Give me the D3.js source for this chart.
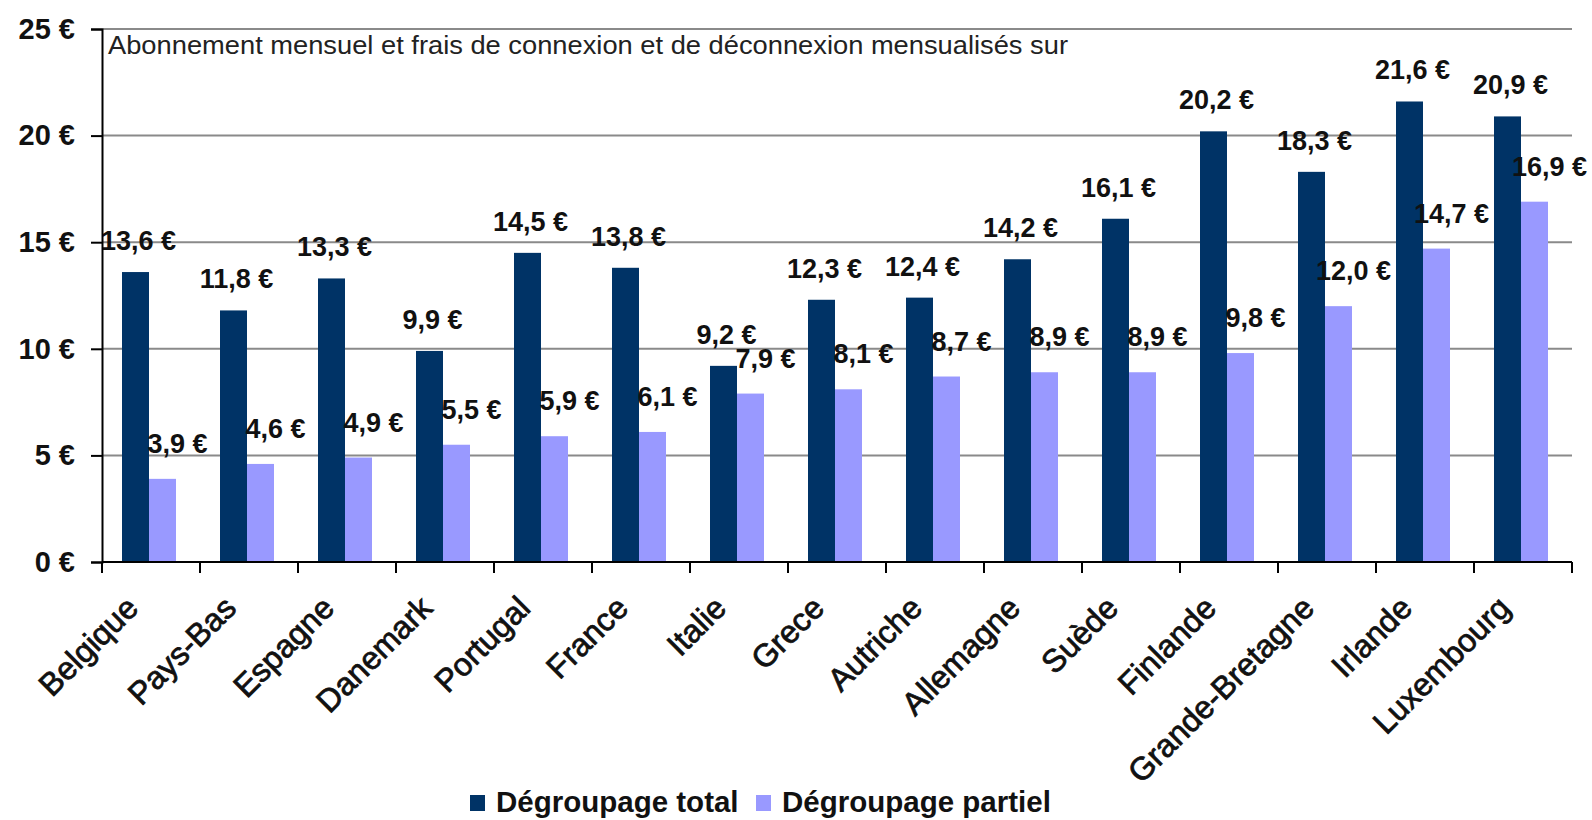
<!DOCTYPE html>
<html>
<head>
<meta charset="utf-8">
<script src="https://cdn.jsdelivr.net/npm/d3@7"></script>
<style>
  body { margin: 0; background: #fff; }
  svg { display: block; }
</style>
</head>
<body>
<svg width="1592" height="820"></svg>
<script>
const countries = ['Belgique', 'Pays-Bas', 'Espagne', 'Danemark', 'Portugal', 'France', 'Italie',
  'Grece', 'Autriche', 'Allemagne', 'Suède', 'Finlande', 'Grande-Bretagne', 'Irlande', 'Luxembourg'];
const seriesNames = ['Dégroupage total', 'Dégroupage partiel'];
const totalValues = [13.6, 11.8, 13.3, 9.9, 14.5, 13.8, 9.2, 12.3, 12.4, 14.2, 16.1, 20.2, 18.3, 21.6, 20.9];
const partialValues = [3.9, 4.6, 4.9, 5.5, 5.9, 6.1, 7.9, 8.1, 8.7, 8.9, 8.9, 9.8, 12.0, 14.7, 16.9];
const yTicks = [0, 5, 10, 15, 20, 25];
const note = 'Abonnement mensuel et frais de connexion et de déconnexion mensualisés sur';

const colors = ['#003366', '#9999ff'];
const font = '"Liberation Sans", Arial, sans-serif';

const plotLeft = 102, plotRight = 1572, plotTop = 29, plotBottom = 562;

const svg = d3.select('svg');

const y = d3.scaleLinear().domain([0, 25]).range([plotBottom, plotTop]);
const x0 = d3.scaleBand().domain(countries).range([plotLeft, plotRight]);
const x1 = d3.scaleBand().domain([0, 1]).range([20, 74]);

// grid lines
svg.append('g').selectAll('line')
  .data(yTicks.filter(d => d > 0))
  .join('line')
  .attr('x1', plotLeft).attr('x2', plotRight)
  .attr('y1', d => y(d)).attr('y2', d => y(d))
  .attr('stroke', '#8a8a8a')
  .attr('stroke-width', 2);

// note in the top left corner
svg.append('text')
  .attr('x', 108).attr('y', 54)
  .attr('font-family', font)
  .attr('font-size', '25px')
  .attr('fill', '#222')
  .attr('textLength', 960)
  .attr('lengthAdjust', 'spacingAndGlyphs')
  .text(note);

// bars
const rows = countries.map((c, i) => ({ country: c, values: [totalValues[i], partialValues[i]] }));
const groups = svg.append('g').selectAll('g')
  .data(rows)
  .join('g')
  .attr('transform', d => 'translate(' + x0(d.country) + ',0)');

groups.selectAll('rect')
  .data(d => d.values.map((v, s) => ({ v, s })))
  .join('rect')
  .attr('x', d => x1(d.s))
  .attr('width', x1.bandwidth())
  .attr('y', d => y(d.v))
  .attr('height', d => y(0) - y(d.v))
  .attr('fill', d => colors[d.s]);

// value labels
const fmt = v => d3.format('.1f')(v).replace('.', ',') + ' €';
groups.selectAll('text')
  .data(d => d.values.map((v, s) => ({ v, s })))
  .join('text')
  .attr('x', d => x1(d.s) + x1.bandwidth() / 2 + (d.s ? 15 : 3))
  .attr('y', d => y(d.v) - (d.s ? 26 : 22))
  .attr('text-anchor', 'middle')
  .attr('font-family', font)
  .attr('font-weight', 'bold')
  .attr('font-size', '27px')
  .attr('fill', '#111')
  .text(d => fmt(d.v));

// y axis
const yAxis = svg.append('g')
  .attr('transform', 'translate(' + plotLeft + ',0)')
  .call(d3.axisLeft(y).tickValues(yTicks).tickSize(11).tickPadding(16)
    .tickFormat(d => d + ' €'));
yAxis.select('.domain').attr('stroke', '#000').attr('stroke-width', 2);
yAxis.selectAll('.tick line').attr('stroke', '#000').attr('stroke-width', 2);
yAxis.selectAll('.tick text')
  .attr('font-family', font)
  .attr('font-weight', 'bold')
  .attr('font-size', '29px')
  .attr('fill', '#111');

// x axis: ticks on category boundaries
const xAxis = svg.append('g');
xAxis.append('line')
  .attr('x1', plotLeft).attr('x2', plotRight)
  .attr('y1', plotBottom).attr('y2', plotBottom)
  .attr('stroke', '#000').attr('stroke-width', 2);
xAxis.selectAll('line.tk')
  .data(countries.map(c => x0(c)).concat([plotRight]))
  .join('line')
  .attr('class', 'tk')
  .attr('x1', d => d).attr('x2', d => d)
  .attr('y1', plotBottom).attr('y2', plotBottom + 11)
  .attr('stroke', '#000').attr('stroke-width', 2);
xAxis.selectAll('text')
  .data(countries)
  .join('text')
  .attr('transform', d => 'translate(' + (x0(d) + x0.bandwidth() / 2 - 11) + ',' + (plotBottom + 48) + ') rotate(-45)')
  .attr('text-anchor', 'end')
  .attr('font-family', font)
  .attr('font-size', '32px')
  .attr('fill', '#111')
  .attr('stroke', '#111')
  .attr('stroke-width', 0.8)
  .text(d => d);

// legend
const legend = svg.append('g').attr('transform', 'translate(470,795)');
const legendX = [0, 286];
const items = legend.selectAll('g')
  .data(seriesNames)
  .join('g')
  .attr('transform', (d, i) => 'translate(' + legendX[i] + ',0)');
items.append('rect')
  .attr('width', 15).attr('height', 16)
  .attr('fill', (d, i) => colors[i]);
items.append('text')
  .attr('x', 26).attr('y', 17)
  .attr('font-family', font)
  .attr('font-weight', 'bold')
  .attr('font-size', '29.5px')
  .attr('fill', '#111')
  .text(d => d);
</script>
</body>
</html>
